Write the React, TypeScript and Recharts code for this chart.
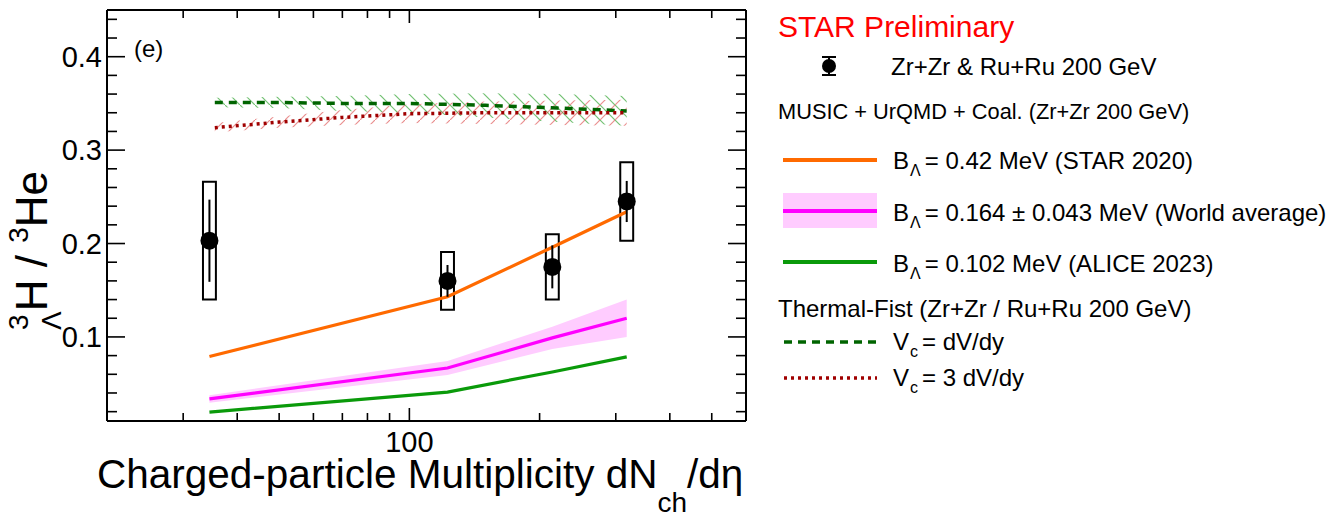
import React from 'react';
import {
  ComposedChart,
  XAxis,
  YAxis,
  Line,
  Area,
  Scatter,
  ErrorBar,
  ReferenceArea,
  ReferenceLine,
} from 'recharts';

// STAR data: Zr+Zr & Ru+Ru 200 GeV
const dataMult = [34.5, 122.5, 214, 318];
const dataRatio = [0.203, 0.16, 0.175, 0.245];
const dataStat = [0.044, 0.017, 0.023, 0.022];
const dataSys = [0.063, 0.031, 0.035, 0.042];

// MUSIC + UrQMD + Coal. (Zr+Zr 200 GeV)
const musicMult = [34.5, 122.5, 214, 318];
const musicStar2020 = [0.079, 0.143, 0.196, 0.234];
const musicWorldAvg = [0.0336, 0.0667, 0.099, 0.12];
const musicWorldAvgErr = [0.004, 0.0075, 0.012, 0.02];
const musicAlice2023 = [0.0196, 0.041, 0.0625, 0.0786];

// Thermal-Fist (Zr+Zr / Ru+Ru 200 GeV)
const thermalMult = [35.5, 50, 70, 100, 150, 220, 318];
const thermalVc1 = [0.351, 0.351, 0.35, 0.35, 0.348, 0.345, 0.342];
const thermalVc1Err = [0.005, 0.006, 0.008, 0.01, 0.013, 0.015, 0.016];
const thermalVc3 = [0.324, 0.33, 0.335, 0.339, 0.34, 0.34, 0.34];
const thermalVc3Err = [0.005, 0.006, 0.008, 0.01, 0.012, 0.013, 0.014];

// Axis ticks
const xDomain = [20, 600];
const xTicks = [30, 40, 50, 60, 70, 80, 90, 100, 200, 300, 400, 500];
const xMajor = [100];
const yDomain = [0.01, 0.45];
const yTicks = [
  0.02, 0.04, 0.06, 0.08, 0.1, 0.12, 0.14, 0.16, 0.18, 0.2, 0.22, 0.24,
  0.26, 0.28, 0.3, 0.32, 0.34, 0.36, 0.38, 0.4, 0.42, 0.44,
];
const yMajor = [0.1, 0.2, 0.3, 0.4];
const yMajorLabels = ['0.1', '0.2', '0.3', '0.4'];

const FONT = '"Liberation Sans", Arial, Helvetica, sans-serif';
const BOX_HALF_WIDTH_FACTOR = 1.035; // half-width of systematic boxes on the log axis

const points = dataMult.map((x, i) => ({ x, y: dataRatio[i], stat: dataStat[i], sys: dataSys[i] }));
const toLine = (xs: number[], ys: number[]) => xs.map((x, i) => ({ x, y: ys[i] }));
const toBand = (xs: number[], ys: number[], es: number[]) =>
  xs.map((x, i) => ({ x, band: [ys[i] - es[i], ys[i] + es[i]] }));

const majorYIndex = (v: number) => yMajor.findIndex((m) => Math.abs(m - v) < 1e-9);

const TICK_STROKE = { stroke: '#000', strokeWidth: 1.6 };
const AXIS_LINE = { stroke: '#000', strokeWidth: 2 };

// Axis labels
const BottomLabel = (props: any) => {
  const { x, y, payload } = props;
  if (!xMajor.includes(payload.value)) return <g />;
  return (
    <text x={x} y={y + 31} textAnchor="middle" fontSize={29} fontFamily={FONT} fill="#000">
      {String(payload.value)}
    </text>
  );
};

const LeftLabel = (props: any) => {
  const { x, y, payload } = props;
  const idx = majorYIndex(payload.value);
  if (idx < 0) return <g />;
  return (
    <text x={x} y={y + 10} textAnchor="end" fontSize={29} fontFamily={FONT} fill="#000">
      {yMajorLabels[idx]}
    </text>
  );
};

// Inward ticks on both frame edges, drawn from the reference line's end points
const YTickMarks = (props: any) => {
  const { x1, x2, y1, major } = props;
  const len = major ? 18 : 10;
  const l = Math.min(x1, x2);
  const r = Math.max(x1, x2);
  return (
    <g>
      <line x1={l} x2={l + len} y1={y1} y2={y1} {...TICK_STROKE} />
      <line x1={r - len} x2={r} y1={y1} y2={y1} {...TICK_STROKE} />
    </g>
  );
};

const XTickMarks = (props: any) => {
  const { x1, y1, y2, major } = props;
  const len = major ? 13 : 8;
  const top = Math.min(y1, y2);
  const bottom = Math.max(y1, y2);
  return (
    <g>
      <line x1={x1} x2={x1} y1={bottom} y2={bottom - len} {...TICK_STROKE} />
      <line x1={x1} x2={x1} y1={top} y2={top + len} {...TICK_STROKE} />
    </g>
  );
};

const DataMarker = (props: any) => <circle cx={props.cx} cy={props.cy} r={9} fill="#000" />;

const entryText = { fontFamily: FONT, fontSize: 24, fill: '#000' } as const;

const SubLabel = ({ x, y, main, sub, rest }: { x: number; y: number; main: string; sub: string; rest: string }) => (
  <text x={x} y={y} {...entryText}>
    {main}
    <tspan fontSize={16} dx={1} dy={7}>{sub}</tspan>
    <tspan dx={4} dy={-7}>{rest}</tspan>
  </text>
);

export default function App() {
  return (
    <div style={{ position: 'absolute', left: 0, top: 0, width: 1334, height: 518, background: '#fff' }}>
      <svg width={0} height={0} style={{ position: 'absolute' }}>
        <defs>
          <pattern id="hatchGreen" patternUnits="userSpaceOnUse" width={15} height={15}>
            <line x1={0} y1={0} x2={15} y2={15} stroke="rgba(0,140,0,0.55)" strokeWidth={1.2} />
          </pattern>
          <pattern id="hatchRed" patternUnits="userSpaceOnUse" width={15} height={15}>
            <line x1={0} y1={15} x2={15} y2={0} stroke="rgba(215,50,50,0.55)" strokeWidth={1.2} />
          </pattern>
        </defs>
      </svg>

      <ComposedChart width={1334} height={518} margin={{ top: 9, right: 587, bottom: 0, left: 0 }}>
        <XAxis
          dataKey="x"
          type="number"
          scale="log"
          domain={xDomain}
          allowDataOverflow
          ticks={xTicks}
          interval={0}
          tick={<BottomLabel />}
          tickLine={false}
          tickSize={0}
          tickMargin={0}
          height={97}
          axisLine={AXIS_LINE}
        />
        <XAxis
          xAxisId="top"
          orientation="top"
          dataKey="x"
          type="number"
          scale="log"
          domain={xDomain}
          allowDataOverflow
          tick={false}
          tickLine={false}
          height={1}
          axisLine={AXIS_LINE}
        />
        <YAxis
          dataKey="y"
          type="number"
          domain={yDomain}
          allowDataOverflow
          ticks={yTicks}
          interval={0}
          tick={<LeftLabel />}
          tickLine={false}
          tickSize={0}
          tickMargin={5}
          width={107}
          axisLine={AXIS_LINE}
        />
        <YAxis
          yAxisId="right"
          orientation="right"
          dataKey="y"
          type="number"
          domain={yDomain}
          allowDataOverflow
          tick={false}
          tickLine={false}
          width={1}
          axisLine={AXIS_LINE}
        />

        {/* Tick marks on all four frame edges */}
        {yTicks.map((t) => (
          <ReferenceLine
            key={`yt-${t}`}
            y={t}
            stroke="none"
            shape={(p: any) => <YTickMarks {...p} major={majorYIndex(t) >= 0} />}
          />
        ))}
        {xTicks.map((t) => (
          <ReferenceLine
            key={`xt-${t}`}
            x={t}
            stroke="none"
            shape={(p: any) => <XTickMarks {...p} major={xMajor.includes(t)} />}
          />
        ))}

        {/* Thermal-Fist uncertainty bands (hatched) */}
        <Area
          data={toBand(thermalMult, thermalVc1, thermalVc1Err)}
          dataKey="band"
          type="linear"
          fill="url(#hatchGreen)"
          fillOpacity={1}
          stroke="none"
          isAnimationActive={false}
          activeDot={false}
        />
        <Area
          data={toBand(thermalMult, thermalVc3, thermalVc3Err)}
          dataKey="band"
          type="linear"
          fill="url(#hatchRed)"
          fillOpacity={1}
          stroke="none"
          isAnimationActive={false}
          activeDot={false}
        />

        {/* World-average band */}
        <Area
          data={toBand(musicMult, musicWorldAvg, musicWorldAvgErr)}
          dataKey="band"
          type="linear"
          fill="#ffccff"
          fillOpacity={1}
          stroke="none"
          isAnimationActive={false}
          activeDot={false}
        />

        <Line data={toLine(musicMult, musicStar2020)} dataKey="y" type="linear" stroke="#ff6a00" strokeWidth={3.2} dot={false} activeDot={false} isAnimationActive={false} />
        <Line data={toLine(musicMult, musicWorldAvg)} dataKey="y" type="linear" stroke="#ff00ff" strokeWidth={3.2} dot={false} activeDot={false} isAnimationActive={false} />
        <Line data={toLine(musicMult, musicAlice2023)} dataKey="y" type="linear" stroke="#0a9a0a" strokeWidth={3.2} dot={false} activeDot={false} isAnimationActive={false} />
        <Line data={toLine(thermalMult, thermalVc1)} dataKey="y" type="linear" stroke="#006400" strokeWidth={3.5} strokeDasharray="8 6" dot={false} activeDot={false} isAnimationActive={false} />
        <Line data={toLine(thermalMult, thermalVc3)} dataKey="y" type="linear" stroke="#a00000" strokeWidth={3.5} strokeDasharray="3 4" dot={false} activeDot={false} isAnimationActive={false} />

        {/* keeps the mirrored top/right frame axes attached to a series */}
        <Line
          xAxisId="top"
          yAxisId="right"
          data={points}
          dataKey="y"
          stroke="none"
          dot={false}
          activeDot={false}
          isAnimationActive={false}
        />

        {/* Systematic uncertainty boxes */}
        {points.map((p, i) => (
          <ReferenceArea
            key={i}
            x1={p.x / BOX_HALF_WIDTH_FACTOR}
            x2={p.x * BOX_HALF_WIDTH_FACTOR}
            y1={p.y - p.sys}
            y2={p.y + p.sys}
            fill="none"
            fillOpacity={0}
            stroke="#000"
            strokeWidth={2}
            ifOverflow="visible"
          />
        ))}

        <Scatter data={points} dataKey="y" shape={<DataMarker />} isAnimationActive={false}>
          <ErrorBar dataKey="stat" direction="y" width={0} stroke="#000" strokeWidth={2} isAnimationActive={false} />
        </Scatter>
      </ComposedChart>

      {/* Titles, panel tag and legend */}
      <svg
        width={1334}
        height={518}
        style={{ position: 'absolute', left: 0, top: 0, pointerEvents: 'none' }}
      >
        <text x={134} y={57} fontFamily={FONT} fontSize={24} fill="#000">(e)</text>

        <g transform="translate(47, 330) rotate(-90)">
          <text fontFamily={FONT} fontSize={44} fill="#000">
            <tspan fontSize={28} dy={-19}>3</tspan>
            <tspan fontSize={28} dx={-15.6} dy={33}>Λ</tspan>
            <tspan dy={-14}>H / </tspan>
            <tspan fontSize={28} dy={-19}>3</tspan>
            <tspan dy={19}>He</tspan>
          </text>
        </g>

        <text x={97} y={488} fontFamily={FONT} fontSize={40.5} fill="#000">
          Charged-particle Multiplicity dN
          <tspan fontSize={28} dy={24}>ch</tspan>
          <tspan dy={-24}>/dη</tspan>
        </text>

        <text x={778} y={37} fontFamily={FONT} fontSize={30} fill="#ff0000">STAR Preliminary</text>

        <line x1={829} x2={829} y1={57} y2={75} stroke="#000" strokeWidth={2} />
        <line x1={822} x2={836} y1={57} y2={57} stroke="#000" strokeWidth={2} />
        <line x1={822} x2={836} y1={75} y2={75} stroke="#000" strokeWidth={2} />
        <circle cx={829} cy={66} r={7} fill="#000" />
        <text x={891} y={75} {...entryText}>Zr+Zr &amp; Ru+Ru 200 GeV</text>

        <text x={778} y={119} fontFamily={FONT} fontSize={21.8} fill="#000">
          MUSIC + UrQMD + Coal. (Zr+Zr 200 GeV)
        </text>

        <line x1={783} x2={877} y1={160} y2={160} stroke="#ff6a00" strokeWidth={4} />
        <SubLabel x={893} y={169} main="B" sub="Λ" rest="= 0.42 MeV (STAR 2020)" />

        <rect x={783} y={193} width={94} height={35} fill="#ffccff" />
        <line x1={783} x2={877} y1={211} y2={211} stroke="#ff00ff" strokeWidth={4} />
        <SubLabel x={893} y={221} main="B" sub="Λ" rest="= 0.164 ± 0.043 MeV (World average)" />

        <line x1={783} x2={877} y1={262} y2={262} stroke="#0a9a0a" strokeWidth={4} />
        <SubLabel x={893} y={272} main="B" sub="Λ" rest="= 0.102 MeV (ALICE 2023)" />

        <text x={778} y={317} {...entryText}>Thermal-Fist (Zr+Zr / Ru+Ru 200 GeV)</text>

        <line x1={784} x2={877} y1={342} y2={342} stroke="#006400" strokeWidth={3.5} strokeDasharray="8 6" />
        <SubLabel x={893} y={350} main="V" sub="c" rest="= dV/dy" />

        <line x1={784} x2={877} y1={378} y2={378} stroke="#a00000" strokeWidth={3.5} strokeDasharray="3 4" />
        <SubLabel x={893} y={386} main="V" sub="c" rest="= 3 dV/dy" />
      </svg>
    </div>
  );
}
